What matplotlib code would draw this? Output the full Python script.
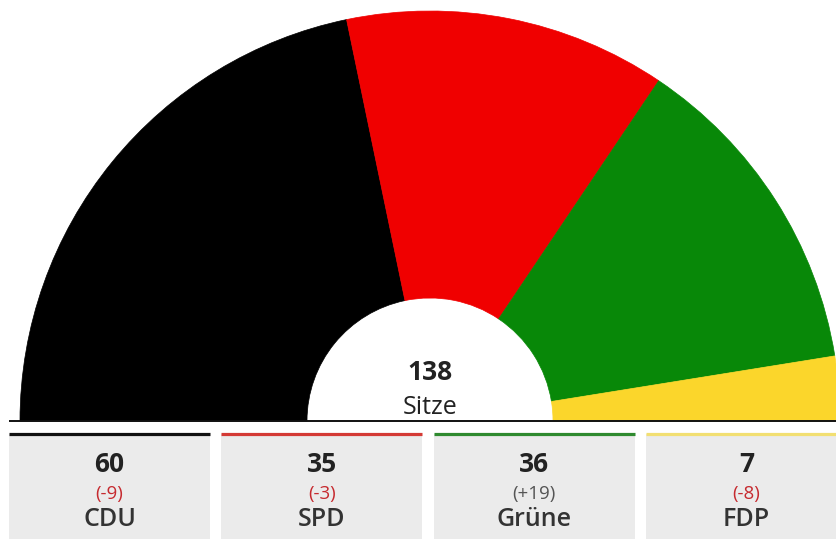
import matplotlib
matplotlib.use('Agg')
import matplotlib.pyplot as plt
from matplotlib.patches import Wedge, Rectangle

# seat distribution
parties = ['CDU', 'SPD', 'Grüne', 'FDP']
seats = [60, 35, 36, 7]
changes = ['(-9)', '(-3)', '(+19)', '(-8)']
change_colors = ['#c62a2f', '#c62a2f', '#555555', '#c62a2f']
colors = ['#000000', '#f00000', '#088808', '#fbd62b']
line_colors = ['#111111', '#d43a35', '#2f8a2f', '#f2df72']

plt.rcParams['font.family'] = ['Open Sans', 'DejaVu Sans']

W, H = 837, 539
fig = plt.figure(figsize=(W / 100, H / 100), dpi=100)
ax = fig.add_axes([0, 0, 1, 1])
ax.set_xlim(0, W)
ax.set_ylim(H, 0)
ax.axis('off')

# half donut (y axis inverted, so increasing angle runs clockwise on screen)
cx, cy, R, r = 430, 421, 410, 123
total = sum(seats)
start = 180.0
for s, c in zip(seats, colors):
    span = s / total * 180.0
    ax.add_patch(Wedge((cx, cy), R, start, start + span, width=R - r,
                       facecolor=c, edgecolor=c, lw=0.5))
    start += span

ax.text(cx, 380, str(total), ha='center', va='baseline', fontsize=19,
        fontweight='bold', color='#222222')
ax.text(cx, 414, 'Sitze', ha='center', va='baseline', fontsize=18,
        color='#222222')
ax.plot([9, W], [421, 421], color='#111111', lw=1.4, solid_capstyle='butt')

# boxes below
bx0, pitch, bw = 9, 212.3, 201
for i in range(len(parties)):
    x0 = bx0 + i * pitch
    ax.add_patch(Rectangle((x0, 434), bw, H - 434, facecolor='#ebebeb', lw=0))
    ax.plot([x0, x0 + bw], [433.5, 433.5], color=line_colors[i], lw=2.3,
            solid_capstyle='butt')
    xc = x0 + bw / 2
    ax.text(xc, 472, str(seats[i]), ha='center', va='baseline', fontsize=19,
            fontweight='bold', color='#222222')
    ax.text(xc, 499, changes[i], ha='center', va='baseline', fontsize=13.5,
            color=change_colors[i])
    ax.text(xc, 526, parties[i], ha='center', va='baseline', fontsize=18,
            fontweight='semibold', color='#333333')

fig.savefig('out.png', dpi=100)
